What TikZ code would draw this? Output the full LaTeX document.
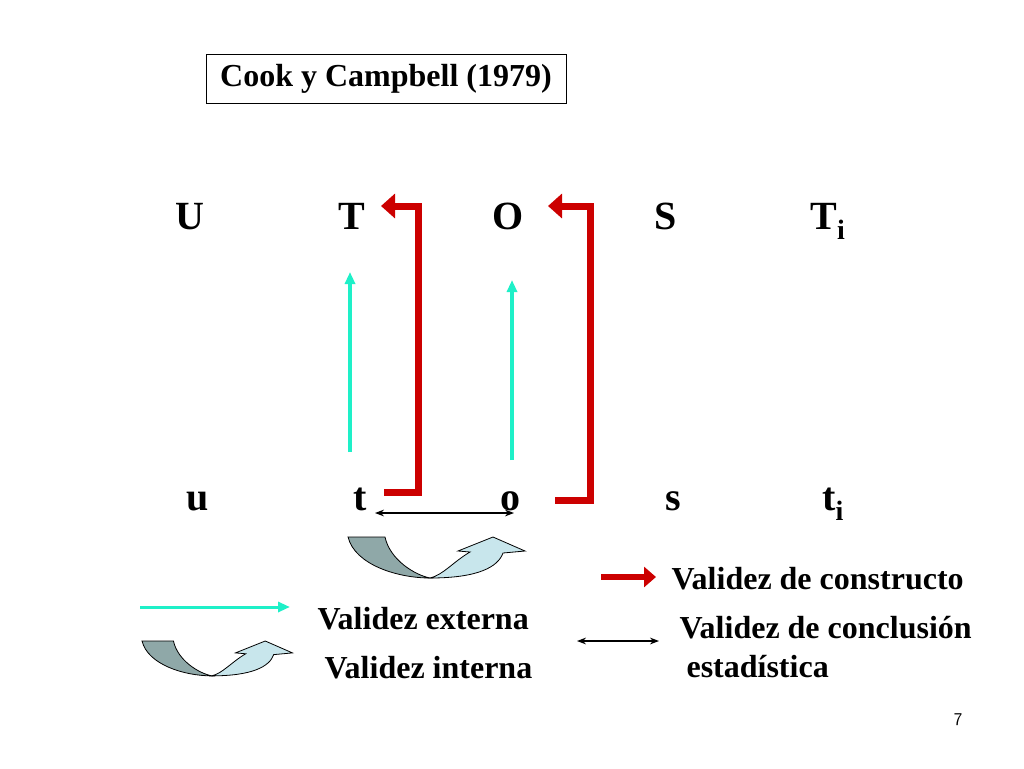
\documentclass[tikz,border=0pt]{standalone}
\usepackage{fontspec}
\setmainfont{Liberation Serif}
\usetikzlibrary{arrows.meta}
\definecolor{dk}{HTML}{8FA8A8}
\definecolor{lt}{HTML}{C8E6EC}
\definecolor{cy}{HTML}{1EF0C8}
\definecolor{rd}{HTML}{CC0000}
\begin{document}
\begin{tikzpicture}[x=1pt,y=-1pt,
 big/.style={font=\bfseries\fontsize{40}{40}\selectfont,anchor=base},
 lab/.style={font=\bfseries\fontsize{32}{36}\selectfont,anchor=base west,align=left},
 redar/.style={rd,line width=7pt,-{Triangle[length=14pt,width=24pt]}},
 cyar/.style={cy,line width=3.5pt,-{Triangle[length=12pt,width=10pt]}},
 dbl/.style={black,line width=1.2pt,{Stealth[length=9pt]}-{Stealth[length=9pt]}},
 uturn/.pic={
  \fill[lt,draw=black,line width=0.8pt] (82,41) .. controls (130,41) and (150,30) .. (155,16)
   -- (177,14) -- (145,0) -- (110,14) -- (122,15) .. controls (105,25) and (95,38) .. (82,41) -- cycle;
  \fill[dk,draw=black,line width=0.8pt] (0,0) -- (37,0) .. controls (42,23) and (67,38) .. (82,41)
   .. controls (50,41) and (7,28) .. (0,0) -- cycle;
 }]
\useasboundingbox (0,0) rectangle (1024,768);
\node[draw,line width=1pt,minimum width=360pt,minimum height=49pt,font=\bfseries\fontsize{32}{36}\selectfont] (title) at (386,79) {Cook y Campbell (1979)};
\node[big] (U) at (190,229) {U};
\node[big] (T) at (352,229) {T};
\node[big] (O) at (508,229) {O};
\node[big] (S) at (666,229) {S};
\node[big] (Ti) at (828,229) {T\textsubscript{i}};
\node[big] (u) at (198,510) {u};
\node[big] (t) at (360,510) {t};
\node[big] (o) at (510,510) {o};
\node[big] (s) at (673,510) {s};
\node[big] (ti) at (833,510) {t\textsubscript{i}};
\coordinate (r1a) at (384,492); \coordinate (r1b) at (418,492); \coordinate (r1c) at (418,206); \coordinate (r1d) at (381,206);
\draw[redar] (r1a) -- (r1b) -- (r1c) -- (r1d);
\coordinate (r2a) at (555,500); \coordinate (r2b) at (590,500); \coordinate (r2c) at (590,206); \coordinate (r2d) at (548,206);
\draw[redar] (r2a) -- (r2b) -- (r2c) -- (r2d);
\coordinate (c1a) at (350,452); \coordinate (c1b) at (350,272);
\draw[cyar] (c1a) -- (c1b);
\coordinate (c2a) at (512,460); \coordinate (c2b) at (512,280);
\draw[cyar] (c2a) -- (c2b);
\coordinate (d1) at (375,513); \coordinate (d2) at (514,513);
\draw[dbl] (d1) -- (d2);
\pic at (348,537) {uturn};
\pic[scale=0.85] at (142,641) {uturn};
\coordinate (lc1) at (140,607); \coordinate (lc2) at (290,607);
\draw[cyar,line width=3pt] (lc1) -- (lc2);
\coordinate (lr1) at (601,577); \coordinate (lr2) at (656,577);
\draw[redar,line width=6pt,-{Triangle[length=12pt,width=20pt]}] (lr1) -- (lr2);
\coordinate (ld1) at (577,641); \coordinate (ld2) at (659,641);
\draw[dbl] (ld1) -- (ld2);
\node[lab] (l1) at (668,589) {Validez de constructo};
\node[lab] (l2) at (314,629) {Validez externa};
\node[lab] (l3) at (321,678) {Validez interna};
\node[lab] (l4) at (676,638) {Validez de conclusión};
\node[lab] (l5) at (683,677) {estadística};
\node[font=\sffamily\fontsize{18}{20}\selectfont,anchor=base] (pg) at (958,725) {7};
\end{tikzpicture}
\end{document}
